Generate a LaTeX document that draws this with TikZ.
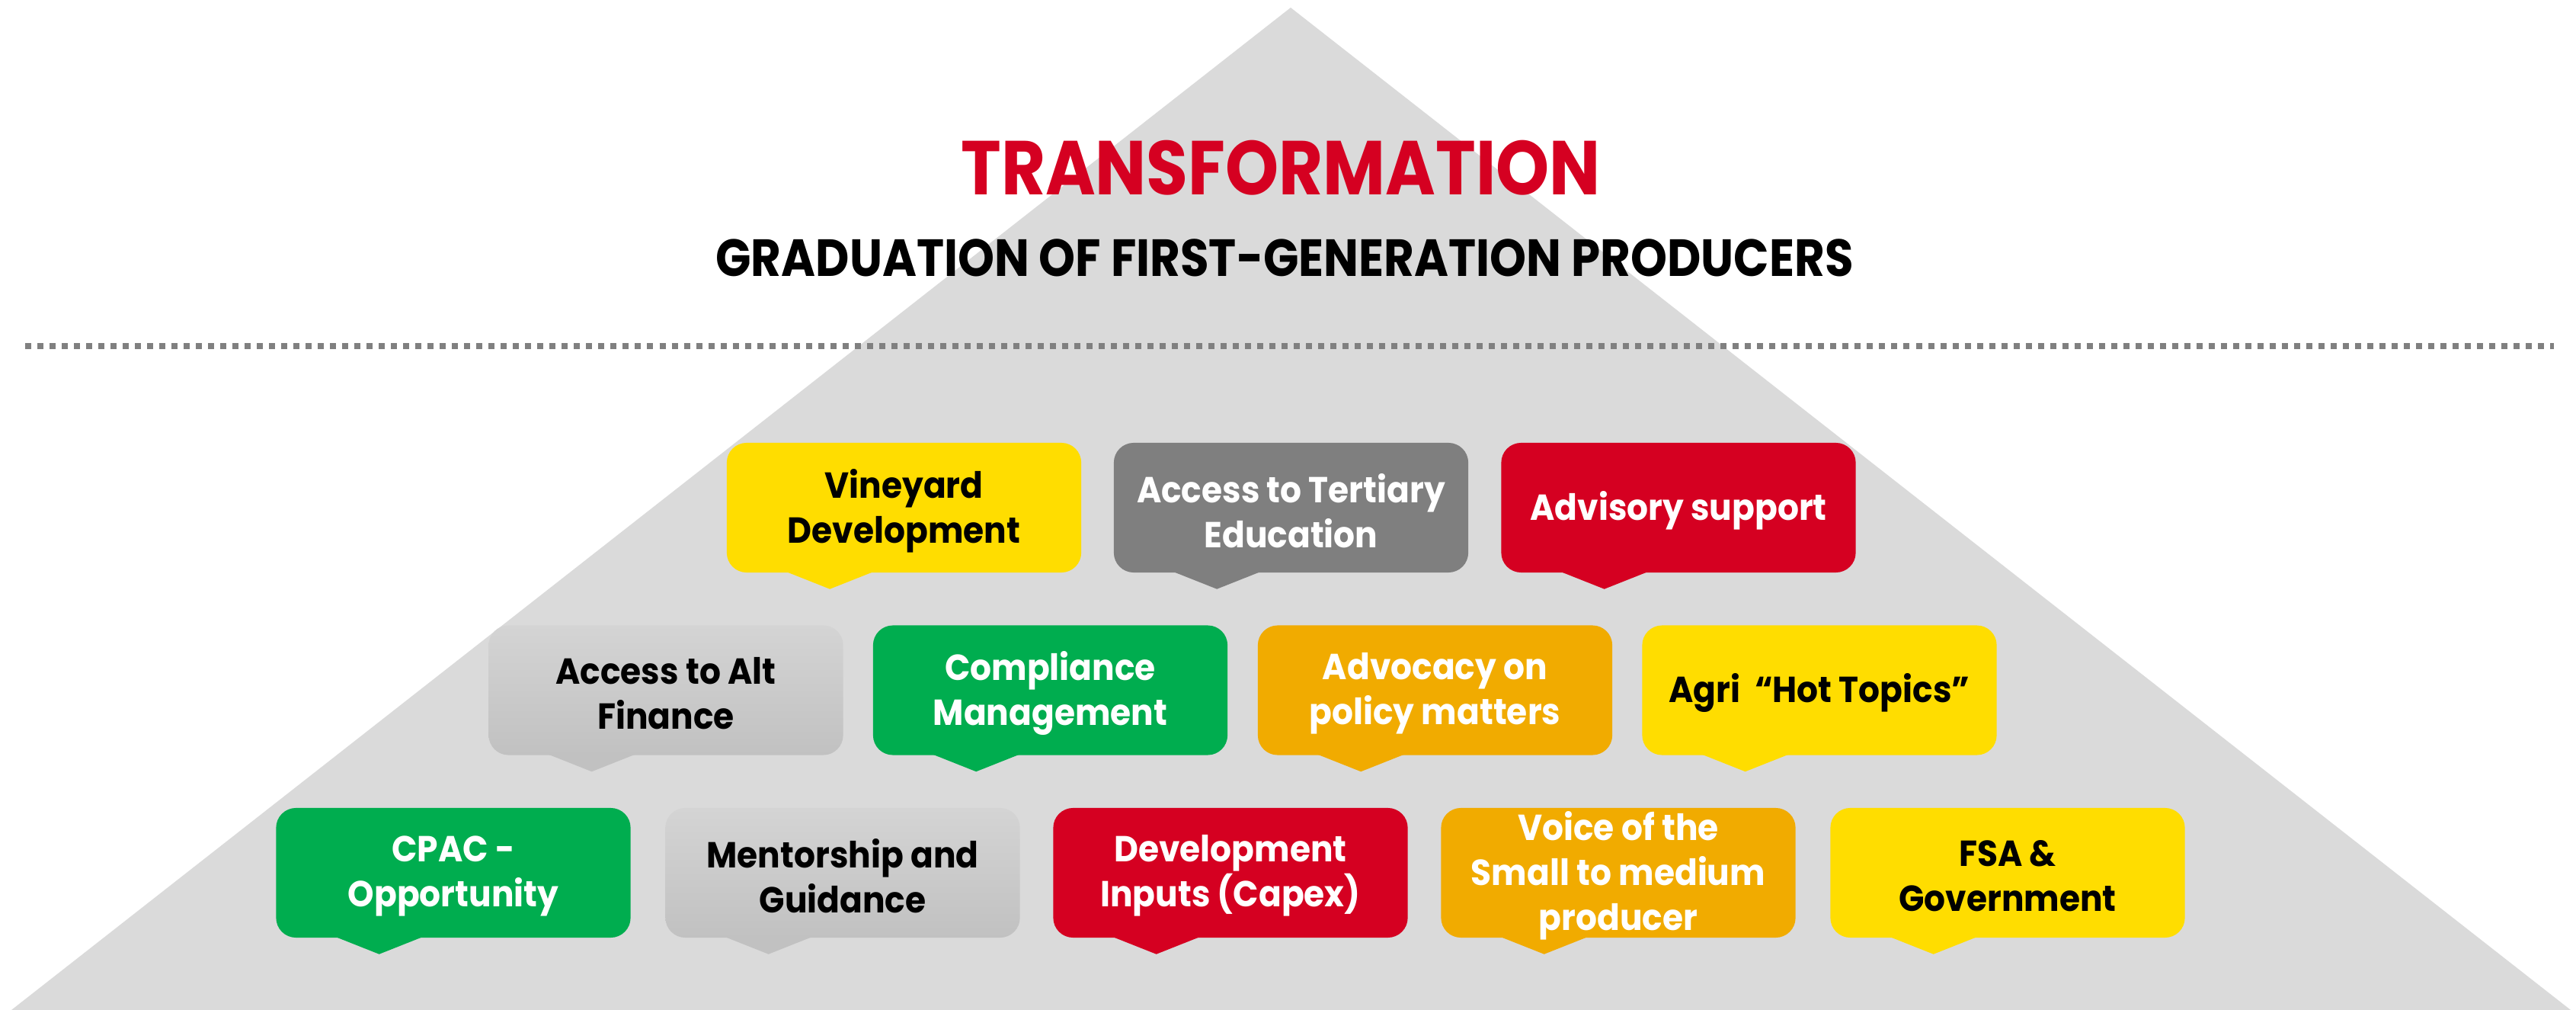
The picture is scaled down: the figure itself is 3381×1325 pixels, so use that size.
\documentclass[tikz,border=0pt]{standalone}
\usepackage{fontspec}
\setmainfont{Poppins}
\newfontfamily\boxfont{Poppins}[FakeStretch=0.925]
\newfontfamily\titfont{Poppins}[FakeStretch=0.89]
\usetikzlibrary{calc}
\definecolor{tric}{HTML}{DADADA}
\definecolor{yellowc}{HTML}{FFDD00}
\definecolor{dgrayc}{HTML}{7F7F7F}
\definecolor{redc}{HTML}{D50021}
\definecolor{greenc}{HTML}{00AD4F}
\definecolor{orangec}{HTML}{F1AB00}
\definecolor{lgtop}{HTML}{D4D4D4}
\definecolor{lgbot}{HTML}{C1C1C1}
\definecolor{dotc}{HTML}{808080}
\tikzset{
  bub/.style={rectangle, rounded corners=0.26cm, minimum width=4.65cm,
    minimum height=1.70cm, inner sep=0pt},
  btext/.style={inner sep=0pt, align=center,
    font=\boxfont\bfseries\fontsize{13.5}{16.8}\selectfont},
  yel/.style={bub, fill=yellowc},
  dgr/.style={bub, fill=dgrayc},
  red/.style={bub, fill=redc},
  grn/.style={bub, fill=greenc},
  org/.style={bub, fill=orangec},
  lgr/.style={bub, top color=lgtop, bottom color=lgbot},
  titlefont/.style={font=\titfont\bfseries\fontsize{28.5}{32}\selectfont, text=redc},
  subfont/.style={font=\titfont\bfseries\fontsize{19.5}{22}\selectfont, text=black},
}
\newcommand\mybub[7]{%
  \node[#5] (#1) at (#2,#3) {};
  \fill[#4] ($(#1.south west)+(78,-2)$) -- ($(#1.south west)+(136,21)$)
    -- ($(#1.south west)+(194,-2)$) -- cycle;
  \node[btext, text=#6] (#1t) at ($(#1.center)+(0,4)$) {#7};
}
\begin{document}
\begin{tikzpicture}[x=0.01cm,y=-0.01cm]
\useasboundingbox (0,0) rectangle (3381,1325);
% pyramid
\coordinate (apex) at (1694,10);
\coordinate (bl) at (15,1325);
\coordinate (br) at (3374,1325);
\fill[tric] (apex) -- (bl) -- (br) -- cycle;
% titles
\node[titlefont, anchor=base, inner sep=0pt] (title) at (1681,256) {TRANSFORMATION};
\node[subfont, anchor=base, inner sep=0pt] (sub) at (1686,363) {GRADUATION OF FIRST-GENERATION PRODUCERS};
% dotted line
\coordinate (d1) at (33,454);
\coordinate (d2) at (3352,454);
\draw[dotc, line width=0.08cm, dash pattern=on 0.08cm off 0.08cm] (d1) -- (d2);
% row 1
\mybub{vine}{1186.5}{666}{yellowc}{yel}{black}{Vineyard\\Development}
\mybub{tert}{1694.5}{666}{dgrayc}{dgr}{white}{Access to Tertiary\\Education}
\mybub{advs}{2203}{666}{redc}{red}{white}{Advisory support}
% row 2
\mybub{altf}{874}{905.5}{lgbot}{lgr}{black}{Access to Alt\\Finance}
\mybub{comp}{1378.5}{905.5}{greenc}{grn}{white}{Compliance\\Management}
\mybub{advc}{1883.5}{905.5}{orangec}{org}{white}{Advocacy on\\policy matters}
\mybub{agri}{2388}{905.5}{yellowc}{yel}{black}{Agri\ \ “Hot Topics”}
% row 3
\mybub{cpac}{595}{1145}{greenc}{grn}{white}{CPAC -\\Opportunity}
\mybub{ment}{1106}{1145}{lgbot}{lgr}{black}{Mentorship and\\Guidance}
\mybub{devi}{1615}{1145}{redc}{red}{white}{Development\\Inputs (Capex)}
\mybub{voic}{2124}{1145}{orangec}{org}{white}{Voice of the\\Small to medium\\producer}
\mybub{fsag}{2635}{1145}{yellowc}{yel}{black}{FSA \&\\Government}
\end{tikzpicture}
\end{document}
